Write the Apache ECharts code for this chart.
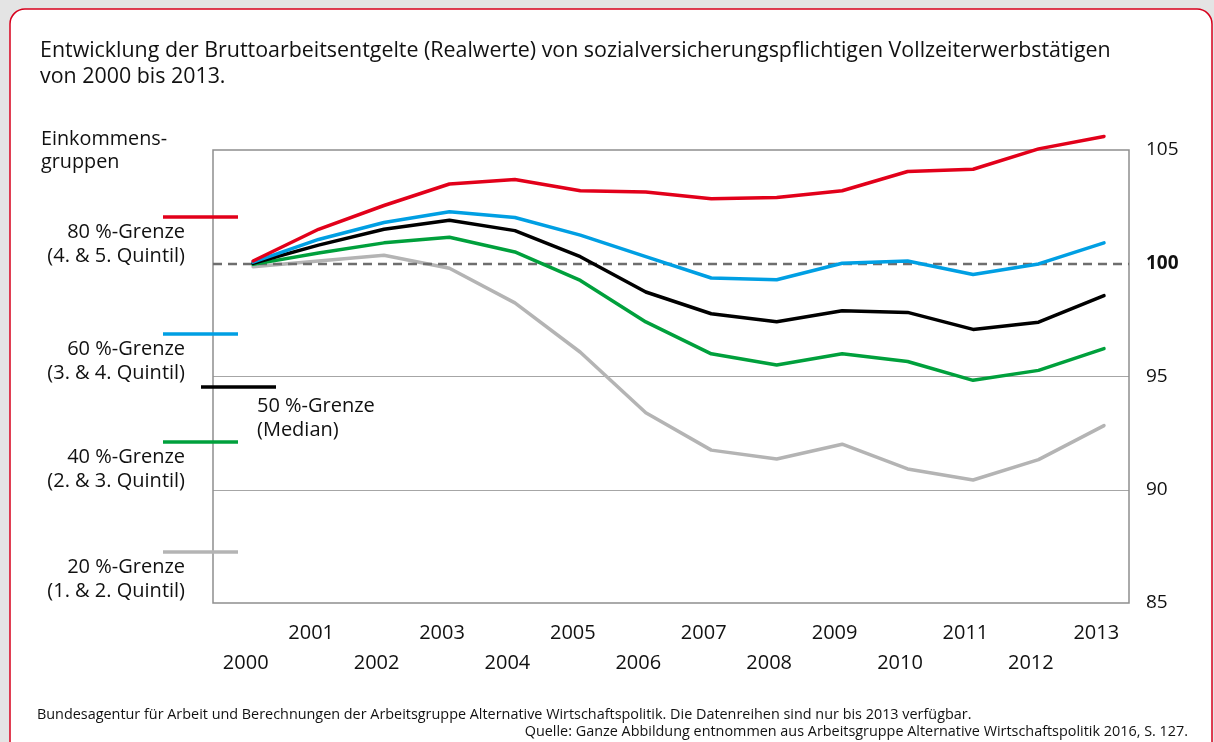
<!DOCTYPE html>
<html>
<head>
<meta charset="utf-8">
<script src="https://cdn.jsdelivr.net/npm/echarts@6/dist/echarts.min.js"></script>
<style>
html,body{margin:0;padding:0;background:#e4e4e4;}
#c{width:1214px;height:742px;}
</style>
</head>
<body>
<div id="c"></div>
<script>
// ---- data ----
const years = ['2000','2001','2002','2003','2004','2005','2006','2007','2008','2009','2010','2011','2012','2013'];
const yTicks = [85, 90, 95, 100, 105];
const red80   = [100.1, 101.5, 102.55, 103.5, 103.7, 103.2, 103.15, 102.85, 102.9, 103.2, 104.05, 104.15, 105.05, 105.6];
const blue60  = [100.05, 101.05, 101.8, 102.27, 102.02, 101.24, 100.29, 99.35, 99.27, 100.0, 100.1, 99.5, 99.97, 100.9];
const black50 = [100.0, 100.8, 101.5, 101.9, 101.44, 100.29, 98.73, 97.77, 97.42, 97.9, 97.83, 97.08, 97.4, 98.57];
const green40 = [99.95, 100.45, 100.9, 101.15, 100.5, 99.24, 97.41, 96.0, 95.51, 96.0, 95.66, 94.83, 95.27, 96.23];
const gray20  = [99.85, 100.1, 100.35, 99.78, 98.25, 96.07, 93.4, 91.75, 91.36, 92.01, 90.92, 90.43, 91.33, 92.83];
const seriesNames = ['80 %-Grenze', '60 %-Grenze', '50 %-Grenze', '40 %-Grenze', '20 %-Grenze'];
const seriesSub = ['(4. & 5. Quintil)', '(3. & 4. Quintil)', '(Median)', '(2. & 3. Quintil)', '(1. & 2. Quintil)'];
const titleLines = ['Entwicklung der Bruttoarbeitsentgelte (Realwerte) von sozialversicherungspflichtigen Vollzeiterwerbstätigen', 'von 2000 bis 2013.'];
const legendHead = ['Einkommens-', 'gruppen'];
const footLines = ['Bundesagentur für Arbeit und Berechnungen der Arbeitsgruppe Alternative Wirtschaftspolitik. Die Datenreihen sind nur bis 2013 verfügbar.',
                   'Quelle: Ganze Abbildung entnommen aus Arbeitsgruppe Alternative Wirtschaftspolitik 2016, S. 127.'];

// ---- styles ----
const FONT = '"Open Sans"';
const colors = ['#e2001a', '#009fe3', '#000000', '#00a03c', '#b4b4b4'];
const allData = [red80, blue60, black50, green40, gray20];

function pairs(arr){ return arr.map((v,i)=>[Number(years[i]), v]); }

const chart = echarts.init(document.getElementById('c'), null, {renderer:'canvas'});

const series = [{
  type:'line', xAxisIndex:1, data:[], z:1, silent:true,
  markLine:{silent:true, symbol:'none', label:{show:false},
    lineStyle:{color:'#6e6e6e', width:2.4, type:[9,6]},
    data:[{yAxis:100}]}
}];
for (let k = allData.length-1; k >= 0; k--) {
  series.push({
    name: seriesNames[k], type:'line', xAxisIndex:1, data: pairs(allData[k]),
    symbol:'none', clip:false, z:3 + (allData.length-k),
    lineStyle:{color:colors[k], width:3.5, join:'round', cap:'round'},
    itemStyle:{color:colors[k]}
  });
}

// legend graphics
const legendY = [217, 334, 387, 442, 552];
const graphic = [
  {type:'rect', z:-10, shape:{x:10, y:9, width:1202, height:790, r:15},
   style:{fill:'#ffffff', stroke:'#d7001c', lineWidth:1.5}},
];
titleLines.forEach((t,i)=>graphic.push({type:'text', x:40, y:51 + i*26, z:50,
  style:{text:t, fill:'#111', font:'21.4px '+FONT, textAlign:'left', textVerticalAlign:'middle'}}));
legendHead.forEach((t,i)=>graphic.push({type:'text', x:41, y:139 + i*23, z:50,
  style:{text:t, fill:'#111', font:'19.8px '+FONT, textAlign:'left', textVerticalAlign:'middle'}}));
for (let k = 0; k < seriesNames.length; k++) {
  const isMed = k === 2;
  graphic.push({type:'line', z:60, shape: isMed ? {x1:201, y1:legendY[k], x2:276, y2:legendY[k]} : {x1:163, y1:legendY[k], x2:238, y2:legendY[k]},
    style:{stroke:colors[k], lineWidth:3.5}});
  const tx = isMed ? 257 : 185;
  const ty = isMed ? 406 : legendY[k] + 15;
  const al = isMed ? 'left' : 'right';
  graphic.push({type:'text', x:tx, y:ty, z:50,
    style:{text:seriesNames[k], fill:'#111', font:'20px '+FONT, textAlign:al, textVerticalAlign:'middle'}});
  graphic.push({type:'text', x:tx, y:ty + 24, z:50,
    style:{text:seriesSub[k], fill:'#111', font:'20px '+FONT, textAlign:al, textVerticalAlign:'middle'}});
}
graphic.push({type:'text', x:37, y:715, z:50,
  style:{text:footLines[0], fill:'#111', font:'14.4px '+FONT, textAlign:'left', textVerticalAlign:'middle'}});
graphic.push({type:'text', x:1188, y:732, z:50,
  style:{text:footLines[1], fill:'#111', font:'14.4px '+FONT, textAlign:'right', textVerticalAlign:'middle'}});

const option = {
  animation:false,
  backgroundColor:'#e4e4e4',
  grid:{left:213, right:85, top:150, bottom:139, show:true, borderColor:'#8f8f8f', borderWidth:1.5, backgroundColor:'transparent', z:2},
  xAxis:[{
    type:'category', data:years, boundaryGap:true,
    axisLine:{show:false}, axisTick:{show:false}, splitLine:{show:false},
    axisLabel:{interval:0, margin:15, color:'#111', fontFamily:FONT, fontSize:20, lineHeight:30,
      formatter:(v, i)=> (i % 2 === 1) ? (v + '\n ') : (' \n' + v)}
  },{
    type:'value', min:1999.388, max:2013.382, show:false, splitLine:{show:false}
  }],
  yAxis:{
    type:'value', position:'right', min:yTicks[0], max:yTicks[yTicks.length-1], interval:5,
    axisLine:{show:false}, axisTick:{show:false},
    splitLine:{show:true, lineStyle:{color:['transparent','#a6a6a6','#a6a6a6','transparent','transparent'], width:1.2}},
    axisLabel:{margin:17, color:'#111', fontFamily:FONT, fontSize:19,
      formatter:(v)=> v === 100 ? '{b|100}' : String(v),
      rich:{b:{fontWeight:'bold', fontFamily:FONT, fontSize:19, color:'#111'}}}
  },
  graphic: graphic,
  series: series
};
chart.setOption(option);
</script>
</body>
</html>
